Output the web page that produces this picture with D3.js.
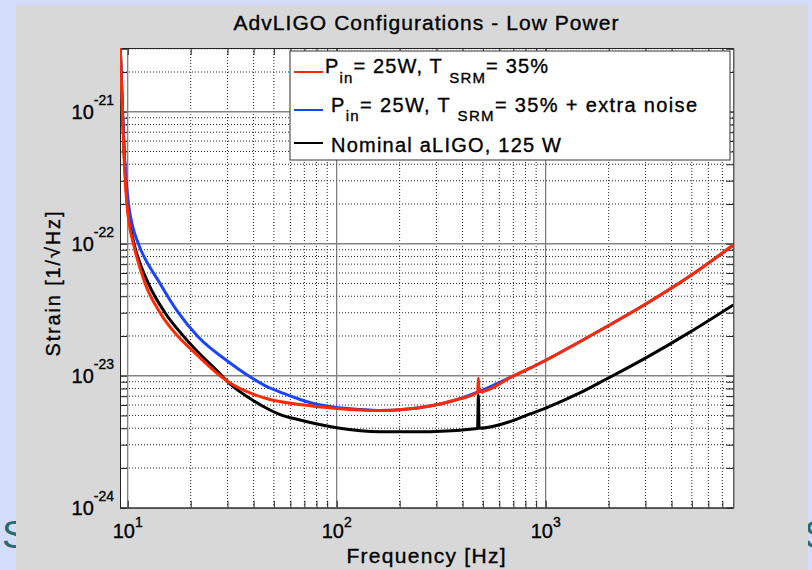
<!DOCTYPE html>
<html>
<head>
<meta charset="utf-8">
<script src="https://cdnjs.cloudflare.com/ajax/libs/d3/7.8.5/d3.min.js"></script>
<style>
body { margin: 0; background: #d3dcf9; }
text { font-family: "Liberation Sans", Arial, sans-serif; fill: #000; stroke: #000; stroke-width: 0.35px; }
.minor { stroke: #222; stroke-width: 1; stroke-dasharray: 1,2; }
.majorx { stroke: #5a5a5a; stroke-width: 1; }
.majory { stroke: #858585; stroke-width: 1.5; }
.axis path, .axis line { stroke: #222; stroke-width: 1; }
.curve { fill: none; stroke-width: 3; stroke-linejoin: round; }
</style>
</head>
<body>
<div id="chart"></div>
<script>
// values (Hz, strain 1/sqrt(Hz))
var redFreq   = [9.18, 9.42, 9.6, 9.89, 10.2, 10.64, 12.1, 14.27, 17.46, 20.24, 27.65, 30.87, 38.5, 47.9, 66.7, 100, 161, 279.5, 370, 472, 476, 480, 700, 841, 1000, 1456, 1953, 3000, 4900, 7900]
var redStrain = [3.5e-21, 1.0e-21, 4.54e-22, 2.03e-22, 1.36e-22, 1.0e-22, 5.0e-23, 3.0e-23, 1.97e-23, 1.57e-23, 1.0e-23, 8.81e-24, 7.4e-24, 6.6e-24, 6.05e-24, 5.65e-24, 5.45e-24, 5.89e-24, 6.55e-24, 7.5e-24, 9.55e-24, 7.55e-24, 9.96e-24, 1.14e-23, 1.31e-23, 1.81e-23, 2.35e-23, 3.48e-23, 5.69e-23, 9.77e-23]

var blueFreq   = [9.18, 9.45, 9.65, 10.07, 10.54, 11.24, 14.27, 17.46, 21.7, 30.87, 37.8, 47.9, 53.6, 66.7, 77.3, 100, 129.3, 161, 279.5, 370, 472, 700, 841, 1000, 1456, 1953, 3000, 4900, 7900]
var blueStrain = [3.5e-21, 1.0e-21, 4.54e-22, 2.03e-22, 1.36e-22, 1.0e-22, 5.0e-23, 3.0e-23, 1.97e-23, 1.25e-23, 1.0e-23, 8.07e-24, 7.52e-24, 6.6e-24, 6.16e-24, 5.74e-24, 5.55e-24, 5.45e-24, 5.89e-24, 6.55e-24, 7.5e-24, 9.96e-24, 1.14e-23, 1.31e-23, 1.81e-23, 2.35e-23, 3.48e-23, 5.69e-23, 9.77e-23]

var blackFreq   = [9.18, 9.44, 9.63, 9.95, 10.28, 10.72, 12.55, 15.08, 18.6, 28.2, 30.87, 38.5, 47.9, 53.6, 66.7, 100, 161, 279.5, 472, 476, 480, 700, 841, 1000, 1456, 1953, 3000, 4900, 7900]
var blackStrain = [3.5e-21, 1.0e-21, 4.54e-22, 2.03e-22, 1.36e-22, 1.0e-22, 5.0e-23, 3.0e-23, 1.97e-23, 1.0e-23, 8.65e-24, 6.72e-24, 5.5e-24, 5.08e-24, 4.62e-24, 4.04e-24, 3.77e-24, 3.77e-24, 3.98e-24, 7.15e-24, 4.0e-24, 4.58e-24, 5.13e-24, 5.69e-24, 7.4e-24, 9.44e-24, 1.36e-23, 2.14e-23, 3.44e-23]

var xTickExp = [1, 2, 3]
var yTickExp = [-24, -23, -22, -21]
var legendNames = ['red', 'blue', 'black']

var width = 812
var height = 570
var svg = d3.select("#chart")
            .append('svg')
            .attr("width", width)
            .attr("height", height);

// slide text sitting behind the figure
svg.append('text').attr('x', 2).attr('y', 548).text('S')
  .style('font-size', '38px').style('fill', '#2b6a6c').style('stroke', 'none')
svg.append('text').attr('x', 804).attr('y', 548).text('S')
  .style('font-size', '38px').style('fill', '#2b6a6c').style('stroke', 'none')

// figure background
svg.append('rect')
  .attr('x', 16).attr('y', 5)
  .attr('width', 792).attr('height', 565)
  .attr('fill', '#d8d8d8')

var pLeft = 120, pRight = 733.3, pTop = 48, pBottom = 507.7

var x = d3.scaleLog().domain([9.18, 7900]).range([pLeft, pRight])
var y = d3.scaleLog().domain([1e-24, 3.04e-21]).range([pBottom, pTop])

svg.append('rect')
  .attr('x', pLeft).attr('y', pTop)
  .attr('width', pRight - pLeft).attr('height', pBottom - pTop)
  .attr('fill', '#fff')

function isDecade(v) {
  var l = Math.log10(v)
  return Math.abs(l - Math.round(l)) < 1e-6
}

var xt = x.ticks()
var yt = y.ticks()

var grid = svg.append('g')
grid.selectAll('.gx').data(xt.filter(function(d){ return !isDecade(d) }))
  .enter().append('line').attr('class', 'minor')
  .attr('x1', function(d){ return x(d) }).attr('x2', function(d){ return x(d) })
  .attr('y1', pTop).attr('y2', pBottom)
grid.selectAll('.gy').data(yt.filter(function(d){ return !isDecade(d) }))
  .enter().append('line').attr('class', 'minor')
  .attr('y1', function(d){ return y(d) }).attr('y2', function(d){ return y(d) })
  .attr('x1', pLeft).attr('x2', pRight)
grid.selectAll('.mx').data(xt.filter(isDecade))
  .enter().append('line').attr('class', 'majorx')
  .attr('x1', function(d){ return x(d) }).attr('x2', function(d){ return x(d) })
  .attr('y1', pTop).attr('y2', pBottom)
grid.selectAll('.my').data(yt.filter(isDecade))
  .enter().append('line').attr('class', 'majory')
  .attr('y1', function(d){ return y(d) }).attr('y2', function(d){ return y(d) })
  .attr('x1', pLeft).attr('x2', pRight)

// ticks on all four sides, pointing inward
svg.append('g').attr('class', 'axis').attr('transform', 'translate(0,' + pBottom + ')')
  .call(d3.axisBottom(x).tickValues(xt).tickSize(-7).tickSizeOuter(0).tickFormat(''))
svg.append('g').attr('class', 'axis').attr('transform', 'translate(0,' + pTop + ')')
  .call(d3.axisTop(x).tickValues(xt).tickSize(-7).tickSizeOuter(0).tickFormat(''))
svg.append('g').attr('class', 'axis').attr('transform', 'translate(' + pLeft + ',0)')
  .call(d3.axisLeft(y).tickValues(yt).tickSize(-7).tickSizeOuter(0).tickFormat(''))
svg.append('g').attr('class', 'axis').attr('transform', 'translate(' + pRight + ',0)')
  .call(d3.axisRight(y).tickValues(yt).tickSize(-7).tickSizeOuter(0).tickFormat(''))

// curves
svg.append('clipPath').attr('id', 'clip')
  .append('rect').attr('x', pLeft).attr('y', pTop)
  .attr('width', pRight - pLeft).attr('height', pBottom - pTop)

var line = d3.line()
  .x(function(d){ return x(d[0]) })
  .y(function(d){ return y(d[1]) })
  .curve(d3.curveMonotoneX)

function pairs(f, s) { return f.map(function(v, i){ return [v, s[i]] }) }

var curves = svg.append('g').attr('clip-path', 'url(#clip)')
curves.append('path').attr('class', 'curve').attr('stroke', '#000')
  .attr('d', line(pairs(blackFreq, blackStrain)))
curves.append('path').attr('class', 'curve').attr('stroke', '#1a44ff')
  .attr('d', line(pairs(blueFreq, blueStrain)))
curves.append('path').attr('class', 'curve').attr('stroke', '#ff2a00')
  .attr('d', line(pairs(redFreq, redStrain)))

// tick labels
xTickExp.forEach(function(e) {
  var t = svg.append('text')
    .attr('x', x(Math.pow(10, e))).attr('y', 538)
    .attr('text-anchor', 'middle')
    .style('font-size', '20px')
  t.append('tspan').text('10')
  t.append('tspan').attr('dy', -11).style('font-size', '14px').text(e)
})
yTickExp.forEach(function(e) {
  var t = svg.append('text')
    .attr('x', 114).attr('y', y(Math.pow(10, e)) + 7.6)
    .attr('text-anchor', 'end')
    .style('font-size', '20px')
  t.append('tspan').text('10')
  t.append('tspan').attr('dy', -14).style('font-size', '14px').text(e)
})

// title and axis labels
svg.append('text')
  .attr('x', 426).attr('y', 30)
  .attr('text-anchor', 'middle')
  .attr('textLength', 385).attr('lengthAdjust', 'spacing')
  .style('font-size', '21px')
  .text('AdvLIGO Configurations - Low Power')

svg.append('text')
  .attr('x', 426).attr('y', 563)
  .attr('text-anchor', 'middle')
  .attr('textLength', 159).attr('lengthAdjust', 'spacing')
  .style('font-size', '21px')
  .text('Frequency [Hz]')

svg.append('text')
  .attr('transform', 'translate(60,284) rotate(-90)')
  .attr('text-anchor', 'middle')
  .attr('textLength', 145).attr('lengthAdjust', 'spacing')
  .style('font-size', '20px')
  .text('Strain [1/\u221aHz]')

// legend
svg.append('rect')
  .attr('x', 290).attr('y', 51)
  .attr('width', 440).attr('height', 109)
  .attr('fill', '#fff').attr('stroke', '#333').attr('stroke-width', 1)

var legColors = ['#ff2a00', '#1a44ff', '#000']
var legY = [72, 110, 143]
legendNames.forEach(function(n, i) {
  svg.append('line')
    .attr('x1', 294).attr('x2', 323)
    .attr('y1', legY[i]).attr('y2', legY[i])
    .attr('stroke', legColors[i]).attr('stroke-width', 2)
})

var l1 = svg.append('text').attr('x', 325).attr('y', 73.3)
  .attr('textLength', 223).attr('lengthAdjust', 'spacing')
  .style('font-size', '20px')
l1.append('tspan').text('P')
l1.append('tspan').attr('dy', 9.4).style('font-size', '15px').text('in')
l1.append('tspan').attr('dy', -9.4).text('= 25W, T ')
l1.append('tspan').attr('dy', 9.4).style('font-size', '15px').text('SRM')
l1.append('tspan').attr('dy', -9.4).text('= 35%')

var l2 = svg.append('text').attr('x', 331).attr('y', 111.7)
  .attr('textLength', 366).attr('lengthAdjust', 'spacing')
  .style('font-size', '20px')
l2.append('tspan').text('P')
l2.append('tspan').attr('dy', 9.4).style('font-size', '15px').text('in')
l2.append('tspan').attr('dy', -9.4).text('= 25W, T ')
l2.append('tspan').attr('dy', 9.4).style('font-size', '15px').text('SRM')
l2.append('tspan').attr('dy', -9.4).text('= 35% + extra noise')

svg.append('text').attr('x', 331).attr('y', 151.7)
  .attr('textLength', 230).attr('lengthAdjust', 'spacing')
  .style('font-size', '20px')
  .text('Nominal aLIGO, 125 W')
</script>
</body>
</html>
